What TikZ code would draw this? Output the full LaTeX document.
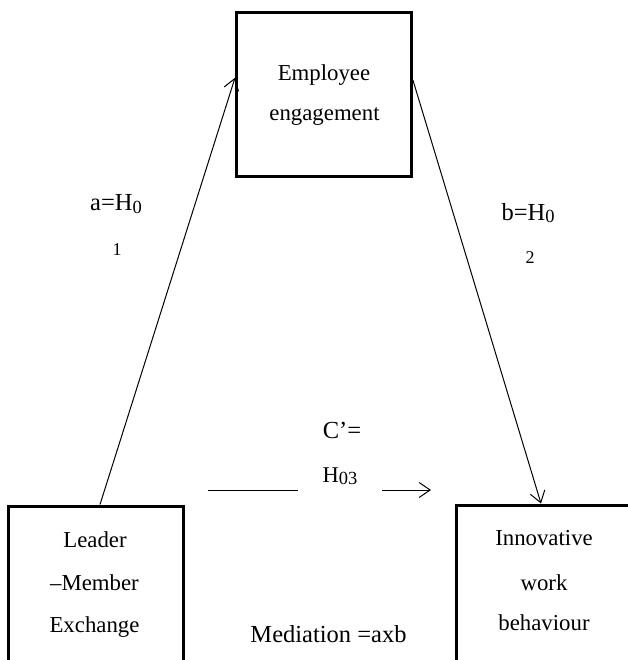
\documentclass[tikz,border=0pt]{standalone}
\usepackage{fontspec}
\setmainfont{Liberation Serif}
\usetikzlibrary{arrows.meta,calc}
\tikzset{
  boxnode/.style={draw=black,line width=3pt,minimum width=#1,inner sep=0pt},
  boxtext/.style={font=\fontsize{22.8}{22.8}\selectfont,inner sep=0pt,anchor=base},
  labeltext/.style={font=\fontsize{24.5}{24.5}\selectfont,inner sep=0pt,anchor=base},
  smalltext/.style={font=\fontsize{18}{18}\selectfont,inner sep=0pt,anchor=base},
  conn/.style={line width=1pt,-{Straight Barb[length=11pt,width=15pt,line width=1pt]}},
  plainconn/.style={line width=1pt}
}
\newcommand{\lowsub}[1]{\raisebox{-2pt}{\fontsize{18.5}{18.5}\selectfont #1}}
\begin{document}
\begin{tikzpicture}[x=1pt,y=-1pt]
\useasboundingbox[fill=white] (0,0) rectangle (627,660);
% boxes
\node[boxnode=175pt,minimum height=164pt] (ee) at (324,94.5) {};
\node[boxnode=175pt,minimum height=160pt] (lmx) at (95.5,586) {};
\node[boxnode=176pt,minimum height=160pt] (iwb) at (544,585) {};
% box texts
\node[boxtext] (ee1) at (324,81) {Employee};
\node[boxtext] (ee2) at (324.5,121) {engagement};
\node[boxtext] (lm1) at (95,547) {Leader};
\node[boxtext] (lm2) at (94.5,590) {\textendash Member};
\node[boxtext] (lm3) at (94.5,632) {Exchange};
\node[boxtext] (iw1) at (544,545) {Innovative};
\node[boxtext] (iw2) at (544,590) {work};
\node[boxtext] (iw3) at (544,630) {behaviour};
% connectors
\draw[conn] ($(lmx.north)+(4.5,0)$) -- ($(ee.north west)!0.4!(ee.south west)$);
\draw[conn] ($(ee.north east)!0.415!(ee.south east)$) -- ($(iwb.north)+(-3,0)$);
\coordinate (m1) at (208,490);
\coordinate (m2) at (298,490);
\coordinate (m3) at (382,490);
\coordinate (m4) at (431,490);
\draw[plainconn] (m1) -- (m2);
\draw[conn] (m3) -- (m4);
% labels
\node[labeltext] (la) at (116,211) {a=H\lowsub{0}};
\node[smalltext] (la2) at (117,255) {1};
\node[labeltext] (lb) at (528,220) {b=H\lowsub{0}};
\node[smalltext] (lb2) at (530,263) {2};
\node[labeltext] (lc) at (342,438) {C\textquoteright=};
\node[labeltext,font=\fontsize{22.5}{22.5}\selectfont] (lc2) at (340,482) {H\lowsub{03}};
\node[labeltext] (med) at (328.5,642) {Mediation =axb};
\end{tikzpicture}
\end{document}
